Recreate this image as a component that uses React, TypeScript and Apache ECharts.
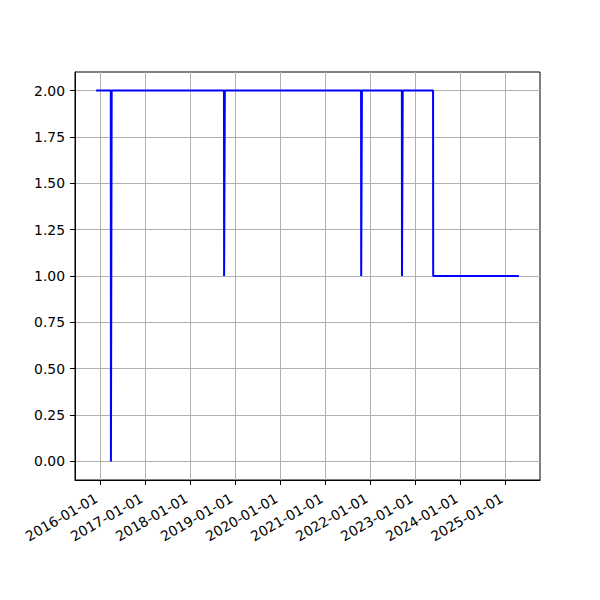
import React, { useEffect, useRef } from "react";
import * as echarts from "echarts";

const dates: string[] = [
  "2015-12-02", "2016-03-30", "2016-03-31", "2016-04-05", "2016-04-06",
  "2018-10-04", "2018-10-05", "2018-10-10", "2018-10-11",
  "2021-10-20", "2021-10-21", "2021-10-26", "2021-10-27",
  "2022-09-16", "2022-09-17", "2022-09-22", "2022-09-23",
  "2023-05-27", "2023-05-28", "2025-04-22",
];
const values: number[] = [
  2, 2, 0, 0, 2,
  2, 1, 1, 2,
  2, 1, 1, 2,
  2, 1, 1, 2,
  2, 1, 1,
];
const xTickLabels: string[] = [
  "2016-01-01", "2017-01-01", "2018-01-01", "2019-01-01", "2020-01-01",
  "2021-01-01", "2022-01-01", "2023-01-01", "2024-01-01", "2025-01-01",
];
const yTicks: number[] = [0, 0.25, 0.5, 0.75, 1, 1.25, 1.5, 1.75, 2];

const toTs = (s: string) => {
  const [y, m, d] = s.split("-").map(Number);
  return Date.UTC(y, m - 1, d);
};
const fmt = (t: number) => {
  const d = new Date(t);
  const p = (n: number) => String(n).padStart(2, "0");
  return `${d.getUTCFullYear()}-${p(d.getUTCMonth() + 1)}-${p(d.getUTCDate())}`;
};

export default function App() {
  const ref = useRef<HTMLDivElement>(null);
  useEffect(() => {
    if (!ref.current) return;
    const chart = echarts.init(ref.current, undefined, { renderer: "svg" });
    const ts = dates.map(toTs);
    const xMinData = Math.min(...ts);
    const xMaxData = Math.max(...ts);
    const xr = xMaxData - xMinData;
    const yMinData = Math.min(...values);
    const yMaxData = Math.max(...values);
    const yr = yMaxData - yMinData;
    const xTicks = xTickLabels.map(toTs);
    const font = "DejaVu Sans";
    chart.setOption({
      animation: false,
      backgroundColor: "#ffffff",
      grid: {
        left: 75,
        right: 60,
        top: 72,
        bottom: 120,
        show: true,
        borderColor: "#000000",
        borderWidth: 1,
        containLabel: false,
      },
      xAxis: {
        type: "value",
        min: xMinData - 0.05 * xr,
        max: xMaxData + 0.05 * xr,
        axisLine: { show: true, onZero: false, lineStyle: { color: "#000", width: 1 } },
        axisTick: {
          show: true,
          length: 5,
          inside: false,
          customValues: xTicks,
          lineStyle: { color: "#000", width: 1 },
        },
        axisLabel: {
          customValues: xTicks,
          rotate: 30,
          margin: 15,
          color: "#000",
          fontFamily: font,
          fontSize: 13.9,
          padding: [0, 4, 0, 0],
          formatter: (v: number) => fmt(v),
        },
        splitLine: { show: true, lineStyle: { color: "#b0b0b0", width: 1 } },
      },
      yAxis: {
        type: "value",
        min: yMinData - 0.05 * yr,
        max: yMaxData + 0.05 * yr,
        axisLine: { show: true, onZero: false, lineStyle: { color: "#000", width: 1 } },
        axisTick: {
          show: true,
          length: 5,
          inside: false,
          customValues: yTicks,
          lineStyle: { color: "#000", width: 1 },
        },
        axisLabel: {
          customValues: yTicks,
          margin: 10,
          color: "#000",
          fontFamily: font,
          fontSize: 13.9,
          formatter: (v: number) => v.toFixed(2),
        },
        splitLine: { show: true, lineStyle: { color: "#b0b0b0", width: 1 } },
      },
      series: [
        {
          type: "line",
          data: ts.map((t, i) => [t, values[i]]),
          showSymbol: false,
          symbol: "none",
          lineStyle: { color: "#0000ff", width: 2 },
          itemStyle: { color: "#0000ff" },
        },
      ],
    });
    return () => chart.dispose();
  }, []);
  return (
    <div
      ref={ref}
      style={{ position: "fixed", left: 0, top: 0, width: 600, height: 600, background: "#fff" }}
    />
  );
}
